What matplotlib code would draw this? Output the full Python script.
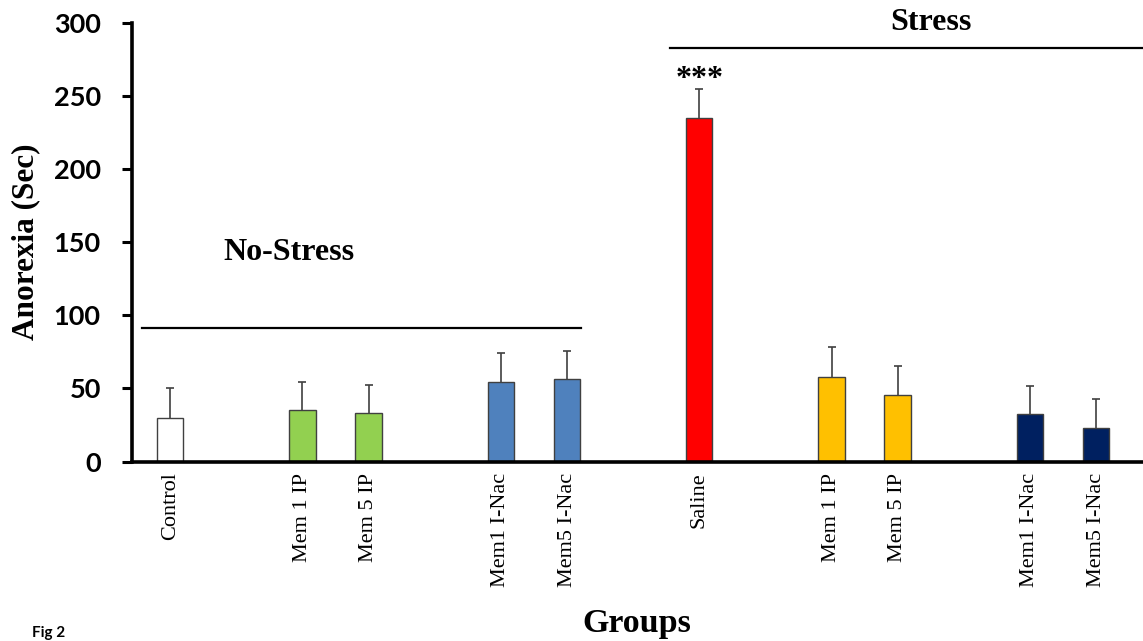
import matplotlib
matplotlib.use("Agg")
import matplotlib.pyplot as plt

# ---- data ----
categories = ["Control", "Mem 1 IP", "Mem 5 IP", "Mem1 I-Nac", "Mem5 I-Nac",
              "Saline", "Mem 1 IP", "Mem 5 IP", "Mem1 I-Nac", "Mem5 I-Nac"]
positions = [0, 2, 3, 5, 6, 8, 10, 11, 13, 14]
means = [30, 35, 33.5, 54.5, 56.5, 235, 58, 45.5, 32.5, 23]
sem = [20, 19.5, 19, 19.5, 19, 19.5, 20, 20, 19, 20]
colors = ["#FFFFFF", "#92D050", "#92D050", "#4F81BD", "#4F81BD",
          "#FF0000", "#FFC000", "#FFC000", "#002060", "#002060"]
y_ticks = [0, 50, 100, 150, 200, 250, 300]

group_names = ["No-Stress", "Stress"]
group_line_levels = [91.5, 283]
group_line_spans = [(-0.43, 6.21), (7.55, 14.9)]
group_label_pos = [(1.80, 143), (11.5, 300)]
sig_text = "***"
sig_index = 5

serif = "Liberation Serif"
sans = "Lato"

fig = plt.figure(figsize=(11.43, 6.41), dpi=100)
W, H = 1143, 641
ax_left, ax_right, ax_bottom, ax_top = 132, 1143, 461.5, 22.7
ax = fig.add_axes([ax_left / W, (H - ax_bottom) / H,
                   (ax_right - ax_left) / W, (ax_bottom - ax_top) / H])

ax.bar(positions, means, width=0.40, color=colors, edgecolor="#404040",
       linewidth=1.0, zorder=2)
eb = ax.errorbar(positions, means, yerr=[[0] * len(sem), sem], fmt="none",
                 ecolor="#404040", elinewidth=1.2, capsize=3.2, capthick=1.2,
                 zorder=3)
# keep only the upper caps
eb[1][0].set_visible(False)

ax.set_xlim(-0.578, 14.71)
ax.set_ylim(0, 300)
ax.set_yticks(y_ticks)
ax.set_xticks(positions)
ax.set_xticklabels(categories, rotation=90, fontfamily=serif, fontsize=16,
                   va="top", ha="center")
ax.tick_params(axis="x", length=0, pad=8)
ax.tick_params(axis="y", length=7.5, width=2.2, pad=15, direction="out")
for lab in ax.get_yticklabels():
    lab.set_fontfamily(sans)
    lab.set_fontweight("bold")
    lab.set_fontsize(19.5)

for s in ["top", "right"]:
    ax.spines[s].set_visible(False)
for s in ["left", "bottom"]:
    ax.spines[s].set_linewidth(2.6)
    ax.spines[s].set_zorder(4)

ax.set_ylabel("Anorexia (Sec)", fontfamily=serif, fontweight="bold",
              fontsize=22.5, labelpad=10)

# group lines and labels
for name, lvl, span, (tx, ty) in zip(group_names, group_line_levels,
                                     group_line_spans, group_label_pos):
    ax.plot(span, [lvl, lvl], color="black", linewidth=1.6, clip_on=False, zorder=1)
    ax.text(tx, ty, name, ha="center", va="center", fontfamily=serif,
            fontweight="bold", fontsize=23, clip_on=False)

ax.text(positions[sig_index], means[sig_index] + sem[sig_index] - 3.5, sig_text,
        ha="center", va="bottom", fontfamily=serif, fontweight="bold", fontsize=23)

fig.text(637 / W, (H - 632) / H, "Groups", ha="center", va="baseline",
         fontfamily=serif, fontweight="bold", fontsize=24.5)
fig.text(32 / W, (H - 626) / H, "Fig 2", ha="left", va="top",
         fontfamily=sans, fontweight="bold", fontsize=11)

fig.savefig("out.png", dpi=100)
